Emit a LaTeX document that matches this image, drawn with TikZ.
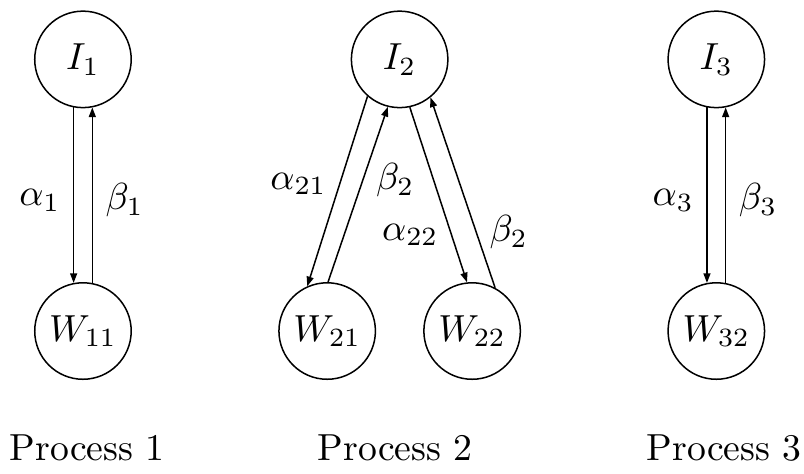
\documentclass[tikz,border=0pt]{standalone}
\usepackage{tikz}
\usetikzlibrary{arrows.meta,positioning}
\tikzset{
  procnode/.style={circle,draw,thin,minimum size=0.9cm,inner sep=0pt},
  proclabel/.style={inner sep=0pt,font=\normalsize},
  arrow/.style={-{Triangle[length=0.9mm,width=0.65mm]},thin},
}

\begin{document}
\begin{tikzpicture}[node distance=1.62cm and 2.04cm]
  \useasboundingbox (0,0) rectangle (7.5,4.42);
  \node[procnode] (i1) at (0.774,3.866) {$I_1$};
  \node[procnode, right=of i1] (i2) {$I_2$};
  \node[procnode, right=of i2] (i3) {$I_3$};
  \node[procnode, below=of i1] (w11) {$W_{11}$};
  \node[procnode, below=of i2, xshift=-0.676cm] (w21) {$W_{21}$};
  \node[procnode, below=of i2, xshift=0.676cm]  (w22) {$W_{22}$};
  \node[procnode, below=of i3] (w32) {$W_{32}$};
  \node[proclabel, below=0.5cm of w11, xshift=0.04cm] (p1) {Process 1};
  \node[proclabel, anchor=base, xshift=-0.04cm] (p2) at (i2 |- p1.base) {Process 2};
  \node[proclabel, anchor=base, xshift=0.075cm]  (p3) at (i3 |- p1.base) {Process 3};
  \draw[arrow] (i1.259) -- node[left, pos=0.53]{$\alpha_1$} (w11.101);
  \draw[arrow] (w11.79) -- node[right, pos=0.47]{$\beta_1$} (i1.281);
  \draw[arrow] (i2.229) -- node[left, pos=0.46]{$\alpha_{21}$} (w21.114);
  \draw[arrow] (w21.89) -- node[right, pos=0.58]{$\beta_2$} (i2.256);
  \draw[arrow] (i2.282) -- node[left, pos=0.73]{$\alpha_{22}$} (w22.96);
  \draw[arrow] (w22.62) -- node[right, pos=0.29]{$\beta_2$} (i2.309);
  \draw[arrow] (i3.259) -- node[left, pos=0.53]{$\alpha_3$} (w32.101);
  \draw[arrow] (w32.79) -- node[right, pos=0.47]{$\beta_3$} (i3.281);
\end{tikzpicture}
\end{document}
